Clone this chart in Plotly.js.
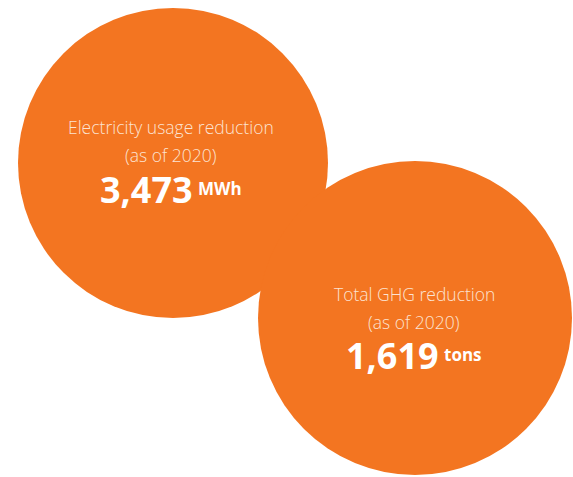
<!DOCTYPE html>
<html>
<head>
<meta charset="utf-8">
<script src="https://cdn.plot.ly/plotly-3.0.1.min.js"></script>
<style>html,body{margin:0;padding:0;background:#fff;}#chart{width:573px;height:477px;}</style>
</head>
<body>
<div id="chart"></div>
<script>
// Data
const metrics = ["Electricity usage reduction", "Total GHG reduction"];
const asOf = ["(as of 2020)", "(as of 2020)"];
const values = [3473, 1619];
const units = ["MWh", "tons"];

// Layout geometry (pixel-space axes)
const circleCx = [173, 415];
const circleCy = [163, 318];
const circleR = [155, 157];
const textCx = [171, 414];
const textLineY = [[127, 155, 189], [294, 322, 355]];
const numRight = [195, 441];

const ORANGE = "#F37521";
const shapes = [];
const annotations = [];
for (let i = 0; i < values.length; i++) {
  shapes.push({
    type: "circle", xref: "x", yref: "y",
    x0: circleCx[i] - circleR[i], x1: circleCx[i] + circleR[i],
    y0: circleCy[i] - circleR[i], y1: circleCy[i] + circleR[i],
    fillcolor: ORANGE, line: {width: 0}, layer: "below"
  });
  annotations.push({
    x: textCx[i], y: textLineY[i][0], xref: "x", yref: "y", showarrow: false,
    text: metrics[i], xanchor: "center", yanchor: "middle",
    font: {family: "Open Sans", size: 17.5, color: "#FCE3D2", weight: 300}
  });
  annotations.push({
    x: textCx[i], y: textLineY[i][1], xref: "x", yref: "y", showarrow: false,
    text: asOf[i], xanchor: "center", yanchor: "middle",
    font: {family: "Open Sans", size: 17.5, color: "#FCE3D2", weight: 300}
  });
  annotations.push({
    x: numRight[i], y: textLineY[i][2], xref: "x", yref: "y", showarrow: false,
    text: "<b>" + values[i].toLocaleString("en-US") + "</b>",
    xanchor: "right", yanchor: "middle",
    font: {family: "Open Sans", size: 36, color: "#FFFFFF"}
  });
  annotations.push({
    x: numRight[i] + 1, y: textLineY[i][2] - 1, xref: "x", yref: "y", showarrow: false,
    text: "<b>" + units[i] + "</b>",
    xanchor: "left", yanchor: "middle",
    font: {family: "Open Sans", size: 17, color: "#FFFFFF"}
  });
}

const layout = {
  width: 573, height: 477,
  margin: {l: 0, r: 0, t: 0, b: 0, pad: 0},
  paper_bgcolor: "#FFFFFF", plot_bgcolor: "#FFFFFF",
  xaxis: {range: [0, 573], visible: false, fixedrange: true},
  yaxis: {range: [477, 0], visible: false, fixedrange: true},
  showlegend: false,
  shapes: shapes,
  annotations: annotations
};
Plotly.newPlot("chart", [{x: [], y: [], type: "scatter", hoverinfo: "skip"}], layout, {staticPlot: true});
</script>
</body>
</html>
